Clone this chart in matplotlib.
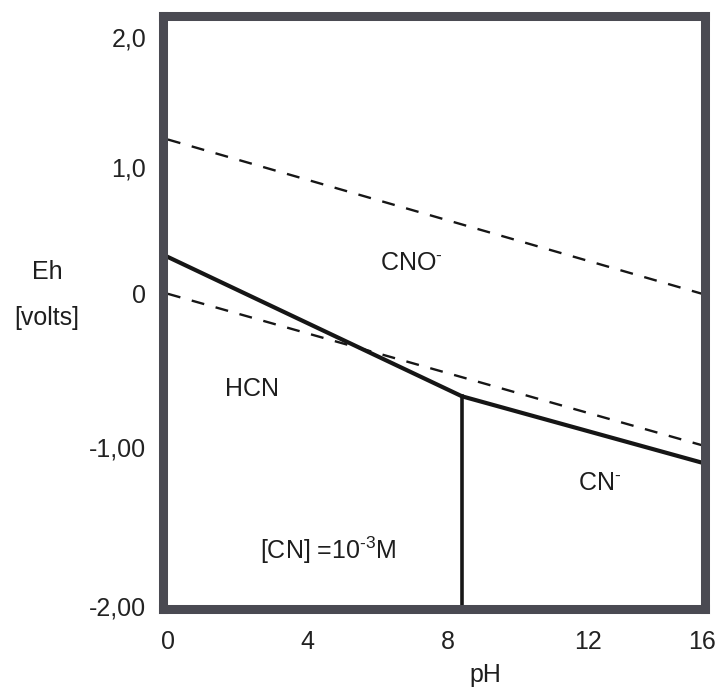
import numpy as np
import matplotlib.pyplot as plt

plt.rcParams["font.family"] = ["Liberation Sans", "DejaVu Sans"]
plt.rcParams["mathtext.fontset"] = "custom"
plt.rcParams["mathtext.rm"] = "Liberation Sans"
plt.rcParams["mathtext.it"] = "Liberation Sans:italic"

# Tick labels as printed on the diagram
ph_ticks = [0, 4, 8, 12, 16]
ph_tick_labels = ["0", "4", "8", "12", "16"]
eh_ticks = [2.0, 1.0, 0.0, -1.0, -2.0]
eh_tick_labels = ["2,0", "1,0", "0", "-1,00", "-2,00"]

# Water stability lines (dashed)
water_ph = [0, 16]
o2_eh = [1.21, 0.0]
h2_eh = [0.0, -0.99]

# CNO- / HCN / CN- boundary (solid)
boundary_ph = [0, 8.4, 16]
boundary_eh = [0.29, -0.67, -1.10]

# HCN / CN- boundary (vertical)
pka_ph = [8.4, 8.4]
pka_eh = [-0.67, -2.02]

# The printed grid is not evenly spaced, so map ticks piecewise
x_knots = np.array([-1, 0, 4, 8, 12, 16, 17])
x_pos = np.array([133.25, 168, 307, 448, 588, 702, 730.5])
y_knots = np.array([-3, -2, -1, 0, 1, 2, 3])
y_pos = -np.array([765, 606, 447, 294, 167, 37, -93])


def fx(v):
    return np.interp(v, x_knots, x_pos)


def ix(p):
    return np.interp(p, x_pos, x_knots)


def fy(v):
    return np.interp(v, y_knots, y_pos)


def iy(p):
    return np.interp(p, y_pos, y_knots)


fig = plt.figure(figsize=(7.2, 6.88), dpi=100)
ax = fig.add_axes([163 / 720, 1 - 609 / 688, (705 - 163) / 720, (609 - 16) / 688])
ax.set_xscale("function", functions=(fx, ix))
ax.set_yscale("function", functions=(fy, iy))

line_col = "#161616"
ax.plot(water_ph, o2_eh, color=line_col, lw=1.7, linestyle=(0, (5.5, 5.0)))
ax.plot(water_ph, h2_eh, color=line_col, lw=1.7, linestyle=(0, (5.5, 5.0)))
ax.plot(boundary_ph, boundary_eh, color=line_col, lw=3.0, solid_joinstyle="miter")
ax.plot(pka_ph, pka_eh, color=line_col, lw=2.6)

ax.set_xlim(-0.14, 16.1)
ax.set_ylim(-2.02, 2.16)

ax.set_xticks(ph_ticks, ph_tick_labels)
ax.set_yticks(eh_ticks, eh_tick_labels)
ax.minorticks_off()
ax.tick_params(axis="both", length=0, labelsize=18, colors="#222222")
ax.tick_params(axis="x", pad=15)
ax.tick_params(axis="y", pad=12)

for sp in ax.spines.values():
    sp.set_linewidth(6.5)
    sp.set_color("#4a4a52")
    sp.set_capstyle("projecting")

txt = dict(fontsize=18, color="#1e1e1e", ha="center", va="center")
ax.text(6.95, 0.24, "CNO$^{\\text{-}}$", **txt)
ax.text(2.42, -0.62, "HCN", **txt)
ax.text(12.42, -1.23, "CN$^{\\text{-}}$", **txt)
ax.text(4.6, -1.65, "[CN] =10$^{\\text{-3}}$M", **txt)

fig.text(47 / 720, 1 - 272 / 688, "Eh", **txt)
fig.text(47 / 720, 1 - 318 / 688, "[volts]", **txt)
fig.text(485 / 720, 1 - 675 / 688, "pH", **txt)

fig.savefig("out.png", dpi=100)
